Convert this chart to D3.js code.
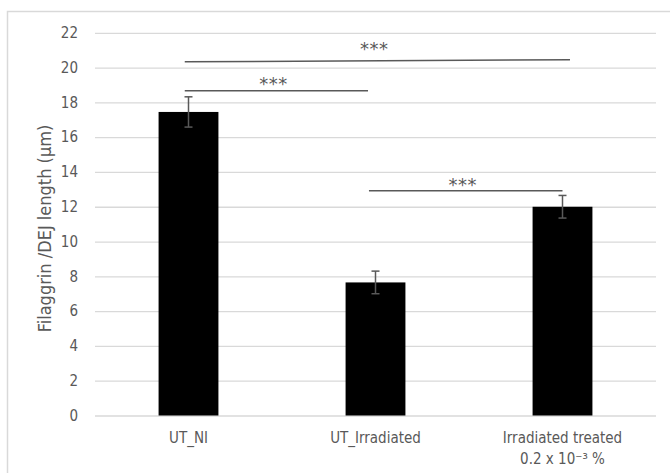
<!DOCTYPE html>
<html>
<head>
<meta charset="utf-8">
<script src="https://cdn.jsdelivr.net/npm/d3@7"></script>
<style>
  html, body { margin: 0; padding: 0; background: #fff; }
  svg { display: block; }
  text { font-family: "DejaVu Sans Condensed", "DejaVu Sans", sans-serif; fill: #595959; }
</style>
</head>
<body>
<svg id="chart" width="670" height="473"></svg>
<script>
// Filaggrin / DEJ length per condition (mean ± error)
const categories = ["UT_NI", "UT_Irradiated", "Irradiated treated"];
const categoryLabels = [["UT_NI"], ["UT_Irradiated"], ["Irradiated treated", "0.2 x 10\u207B\u00B3 %"]];
const means = [17.45, 7.65, 12.0];
const errors = [0.87, 0.65, 0.65];
const yTicks = [0, 2, 4, 6, 8, 10, 12, 14, 16, 18, 20, 22];
const yTitle = "Filaggrin /DEJ length (\u00B5m)";

// Significance brackets: ends given in category-index units, heights in µm
const bracketFrom = [-0.02, -0.02, 0.965];
const bracketTo = [2.04, 0.96, 2.0];
const bracketYLeft = [20.33, 18.67, 12.92];
const bracketYRight = [20.45, 18.67, 12.92];
const bracketLabelY = [21.31, 19.29, 13.49];
const bracketLabels = ["***", "***", "***"];

const svg = d3.select("#chart");
const plot = { left: 95, right: 656, top: 32.8, bottom: 415.5 };

// Outer chart frame
svg.append("rect")
  .attr("x", 7.5).attr("y", 11.5)
  .attr("width", 700).attr("height", 500)
  .attr("fill", "#fff").attr("stroke", "#d9d9d9").attr("stroke-width", 1.5);

const x = d3.scaleBand()
  .domain(categories)
  .range([plot.left, plot.right])
  .paddingInner(0.68)
  .paddingOuter(0.34);

const y = d3.scaleLinear()
  .domain([0, 22])
  .range([plot.bottom, plot.top]);

const bw = x.bandwidth();
const cx = d3.scaleLinear()
  .domain([0, categories.length - 1])
  .range([x(categories[0]) + bw / 2, x(categories[categories.length - 1]) + bw / 2]);

// Y axis with gridlines
const yAxis = svg.append("g")
  .attr("transform", `translate(${plot.left},0)`)
  .call(d3.axisLeft(y)
    .tickValues(yTicks)
    .tickSize(-(plot.right - plot.left))
    .tickPadding(17)
    .tickFormat(d3.format("d")));
yAxis.select(".domain").remove();
yAxis.selectAll(".tick line").attr("stroke", "#d9d9d9").attr("stroke-width", 1.3);
yAxis.selectAll(".tick text")
  .style("font-family", '"DejaVu Sans Condensed", "DejaVu Sans", sans-serif')
  .attr("font-size", 15).attr("fill", "#595959");

// Y axis title
svg.append("text")
  .attr("transform", `translate(51,228.5) rotate(-90)`)
  .attr("text-anchor", "middle")
  .attr("font-size", 18)
  .text(yTitle);

// Bars
svg.append("g").selectAll("rect")
  .data(categories)
  .join("rect")
  .attr("x", d => x(d))
  .attr("width", bw)
  .attr("y", (d, i) => y(means[i]))
  .attr("height", (d, i) => y(0) - y(means[i]))
  .attr("fill", "#000");

// Error bars
const eb = svg.append("g").attr("stroke", "#595959").attr("stroke-width", 1.5);
categories.forEach((c, i) => {
  const xc = x(c) + bw / 2;
  const hi = y(means[i] + errors[i]);
  const lo = y(means[i] - errors[i]);
  eb.append("line").attr("x1", xc).attr("x2", xc).attr("y1", hi).attr("y2", lo);
  eb.append("line").attr("x1", xc - 4).attr("x2", xc + 4).attr("y1", hi).attr("y2", hi);
  eb.append("line").attr("x1", xc - 4).attr("x2", xc + 4).attr("y1", lo).attr("y2", lo);
});

// X axis labels
const xAxis = svg.append("g")
  .attr("transform", `translate(0,${plot.bottom})`)
  .call(d3.axisBottom(x).tickSize(0));
xAxis.select(".domain").remove();
xAxis.selectAll(".tick text").each(function (d, i) {
  const t = d3.select(this)
    .attr("y", 0).attr("dy", null)
    .style("font-family", '"DejaVu Sans Condensed", "DejaVu Sans", sans-serif')
    .attr("font-size", 15).attr("fill", "#595959")
    .text(null);
  categoryLabels[i].forEach((line, k) => {
    t.append("tspan").attr("x", 0).attr("y", 27.5 + k * 21).text(line);
  });
});

// Significance brackets with their star labels
const sig = svg.append("g");
bracketLabels.forEach((lab, i) => {
  const x1 = cx(bracketFrom[i]), x2 = cx(bracketTo[i]);
  const y1 = y(bracketYLeft[i]), y2 = y(bracketYRight[i]);
  sig.append("line")
    .attr("x1", x1).attr("x2", x2).attr("y1", y1).attr("y2", y2)
    .attr("stroke", "#595959").attr("stroke-width", 1.5);
  sig.append("text")
    .attr("x", (x1 + x2) / 2 - 3)
    .attr("y", y(bracketLabelY[i]) + 10)
    .attr("text-anchor", "middle")
    .attr("font-size", 18)
    .attr("letter-spacing", 0.5)
    .style("font-family", '"DejaVu Sans", sans-serif')
    .attr("fill", "#222")
    .text(lab);
});
</script>
</body>
</html>
